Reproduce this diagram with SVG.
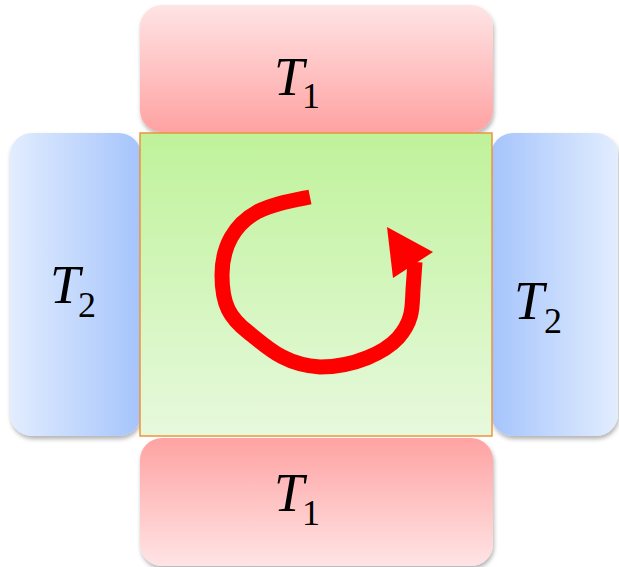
<svg xmlns="http://www.w3.org/2000/svg" width="619" height="567" viewBox="0 0 619 567">
<defs>
<linearGradient id="gTop" x1="0" y1="0" x2="0" y2="1"><stop offset="0" stop-color="#ffe4e5"/><stop offset="1" stop-color="#ffa2a2"/></linearGradient>
<linearGradient id="gBot" x1="0" y1="0" x2="0" y2="1"><stop offset="0" stop-color="#ffa2a2"/><stop offset="1" stop-color="#ffe4e5"/></linearGradient>
<linearGradient id="gLeft" x1="0" y1="0" x2="1" y2="0"><stop offset="0" stop-color="#e2edfe"/><stop offset="1" stop-color="#a5c4fc"/></linearGradient>
<linearGradient id="gRight" x1="0" y1="0" x2="1" y2="0"><stop offset="0" stop-color="#a5c4fc"/><stop offset="1" stop-color="#e2edfe"/></linearGradient>
<linearGradient id="gGreen" x1="0" y1="0" x2="0" y2="1"><stop offset="0" stop-color="#bff29a"/><stop offset="1" stop-color="#e7f9dd"/></linearGradient>
<filter id="sh" x="-10%" y="-10%" width="120%" height="120%"><feDropShadow dx="1" dy="3" stdDeviation="2" flood-color="#000" flood-opacity="0.3"/></filter>
<style>
.T{font-family:"Liberation Serif",serif;font-style:italic;font-size:54px;fill:#000}
.s{font-family:"Liberation Serif",serif;font-size:36px;fill:#000}
</style>
</defs>
<g id="left-T2"><rect x="10" y="133" width="131" height="303" rx="22" fill="url(#gLeft)" filter="url(#sh)"/>
<text class="T" x="50" y="303">T</text><text class="s" x="78" y="317">2</text></g>
<g id="right-T2"><rect x="491" y="133" width="127" height="303" rx="22" fill="url(#gRight)" filter="url(#sh)"/>
<text class="T" x="514" y="319">T</text><text class="s" x="544" y="333">2</text></g>
<g id="top-T1"><rect x="140" y="5" width="353" height="127" rx="22" fill="url(#gTop)" filter="url(#sh)"/>
<text class="T" x="274" y="95">T</text><text class="s" x="302" y="108">1</text></g>
<g id="bottom-T1"><rect x="140" y="438" width="353" height="128" rx="22" fill="url(#gBot)" filter="url(#sh)"/>
<text class="T" x="274" y="511">T</text><text class="s" x="302" y="525">1</text></g>
<g id="center"><rect x="140" y="133" width="352" height="303" fill="url(#gGreen)" stroke="#f0933a" stroke-width="1.5"/></g>
<g id="connectors">
<path d="M310,197 C290,201 272,204 257,212 C235,224 222,246 222,275 C222,305 230,318 248,332 C268,348 285,365 320,367 C355,367 385,352 398,338 C414,320 412,305 413,290 L415,262" fill="none" stroke="#ff0000" stroke-width="15" stroke-linejoin="round"/>
<polygon points="387,227 433,252 393,278" fill="#ff0000"/>
</g>
</svg>
